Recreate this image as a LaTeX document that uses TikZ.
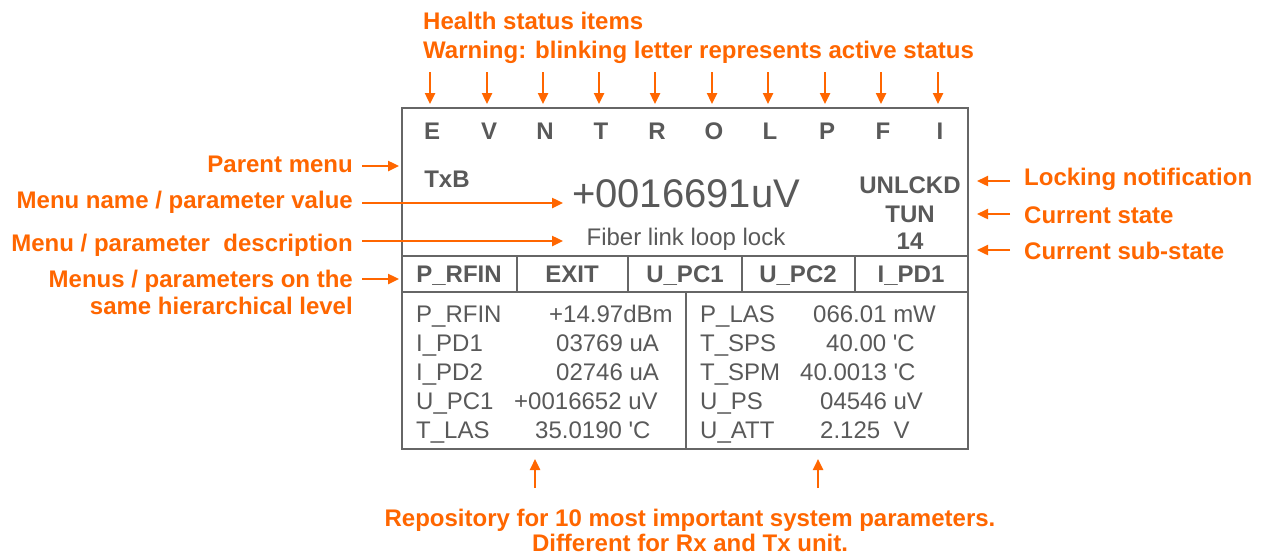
\documentclass[tikz,border=0pt]{standalone}
\usepackage{fontspec}
\setmainfont{Liberation Sans}
\usetikzlibrary{arrows.meta}
\definecolor{callout}{RGB}{255,102,0}
\definecolor{lcd}{RGB}{89,89,89}
\definecolor{frame}{RGB}{102,102,102}
\newcommand{\degq}{\textquotesingle}
\tikzset{
  note/.style={text=callout, font=\fontsize{24}{28}\selectfont\bfseries, inner sep=0pt},
  pointer/.style={draw=callout, line width=2.4pt, -{Triangle[length=11pt,width=10pt]}},
  lcdtext/.style={text=lcd, font=\fontsize{24}{28}\selectfont, inner sep=0pt, anchor=base west},
  lcdbold/.style={text=lcd, font=\fontsize{24}{28}\selectfont\bfseries, inner sep=0pt, anchor=base},
  rule/.style={draw=frame, line width=2.5pt},
}
\begin{document}
\begin{tikzpicture}[x=1pt,y=-1pt]
\useasboundingbox (0,0) rectangle (1263,555);

% display frame and grid
\draw[rule] (402,108) rectangle (968,449);
\draw[rule] (402,256) -- (968,256);
\draw[rule] (402,292) -- (968,292);
\foreach \x in {517,628,742,855} \draw[rule] (\x,256) -- (\x,292);
\draw[rule] (686,292) -- (686,449);

% health status letters with their pointers
\node[note, anchor=base west] (hs1) at (423,29) {Health status items};
\node[note, anchor=base west] (hs2) at (423,58) {Warning: blinking letter represents active status};
\foreach \l/\x [count=\i] in {E/430,V/487,N/543,T/599,R/655,O/712,L/768,P/825,F/881,I/938}{
  \node[lcdbold] (st\i) at (\x+2,139) {\l};
  \coordinate (st\i top) at (\x,72);
  \coordinate (st\i tip) at (\x,104);
  \draw[pointer] (st\i top) -- (st\i tip);
}

% main display area
\node[lcdbold] (parent) at (447,187) {TxB};
\node[text=lcd, font=\fontsize{40}{44}\selectfont, inner sep=0pt, anchor=base] (value) at (686,207) {+0016691uV};
\node[text=lcd, font=\fontsize{24}{28}\selectfont, inner sep=0pt, anchor=base] (descr) at (686,245) {Fiber link loop lock};
\node[lcdbold] (lock) at (910,193) {UNLCKD};
\node[lcdbold] (state) at (910,222) {TUN};
\node[lcdbold] (substate) at (910,249) {14};

% menu row
\foreach \t/\x [count=\i] in {P\_RFIN/459,EXIT/572,U\_PC1/685,U\_PC2/798,I\_PD1/911}
  \node[lcdbold] (menu\i) at (\x,282) {\t};

% parameter repository
\foreach \n/\v/\vx/\y [count=\i] in {P\_RFIN/+14.97dBm/549/322, I\_PD1/03769 uA/556/351, I\_PD2/02746 uA/556/380, U\_PC1/+0016652 uV/514/409, T\_LAS/35.0190 \degq C/535/438}{
  \node[lcdtext] (ln\i) at (416,\y) {\n};
  \node[lcdtext] (lv\i) at (\vx,\y) {\v};
}
\foreach \n/\v/\vx/\y [count=\i] in {P\_LAS/066.01 mW/813/322, T\_SPS/40.00 \degq C/826/351, T\_SPM/40.0013 \degq C/800/380, U\_PS/04546 uV/820/409, U\_ATT/2.125\ \ V/820/438}{
  \node[lcdtext] (rn\i) at (700,\y) {\n};
  \node[lcdtext] (rv\i) at (\vx,\y) {\v};
}

% left callouts
\node[note, anchor=base east] (cParent) at (353,172) {Parent menu};
\node[note, anchor=base east] (cValue) at (353,208) {Menu name / parameter value};
\node[note, anchor=base east] (cDescr) at (353,251) {Menu / parameter\ \ description};
\node[note, anchor=base east] (cMenu1) at (353,287) {Menus / parameters on the};
\node[note, anchor=base east] (cMenu2) at (353,314) {same hierarchical level};
\coordinate (pParentA) at (362,166);  \coordinate (pParentB) at (399,166);
\coordinate (pValueA) at (362,203);   \coordinate (pValueB) at (563,203);
\coordinate (pDescrA) at (362,241);   \coordinate (pDescrB) at (563,241);
\coordinate (pMenuA) at (362,279);    \coordinate (pMenuB) at (399,279);
\draw[pointer] (pParentA) -- (pParentB);
\draw[pointer] (pValueA) -- (pValueB);
\draw[pointer] (pDescrA) -- (pDescrB);
\draw[pointer] (pMenuA) -- (pMenuB);

% right callouts
\node[note, anchor=base west] (cLock) at (1024,185) {Locking notification};
\node[note, anchor=base west] (cState) at (1024,223) {Current state};
\node[note, anchor=base west] (cSub) at (1024,259) {Current sub-state};
\coordinate (pLockA) at (1010,181);  \coordinate (pLockB) at (977,181);
\coordinate (pStateA) at (1010,214); \coordinate (pStateB) at (977,214);
\coordinate (pSubA) at (1010,250);   \coordinate (pSubB) at (977,250);
\draw[pointer] (pLockA) -- (pLockB);
\draw[pointer] (pStateA) -- (pStateB);
\draw[pointer] (pSubA) -- (pSubB);

% bottom callout
\node[note, anchor=base] (cRepo1) at (690,526) {Repository for 10 most important system parameters.};
\node[note, anchor=base] (cRepo2) at (690,551) {Different for Rx and Tx unit.};
\coordinate (pRepoLA) at (535,488); \coordinate (pRepoLB) at (535,459);
\coordinate (pRepoRA) at (818,488); \coordinate (pRepoRB) at (818,459);
\draw[pointer] (pRepoLA) -- (pRepoLB);
\draw[pointer] (pRepoRA) -- (pRepoRB);
\end{tikzpicture}
\end{document}
